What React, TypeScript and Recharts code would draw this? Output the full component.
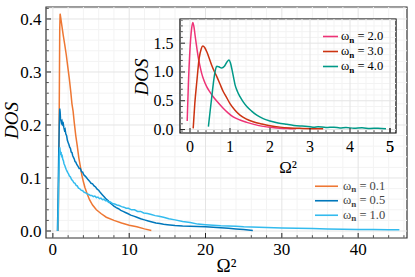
import React from 'react';
import { LineChart, Line, XAxis, YAxis, ReferenceLine, ReferenceArea, Legend, Label } from 'recharts';

const FONT = '"Liberation Serif", "DejaVu Serif", serif';

// ---------- main chart data ----------
const mainOmegas = ['0.1', '0.5', '1.0'];
const mainColors = ['#EE7733', '#0077BB', '#33BBEE'];

const seriesW01: [number, number][] = [
  [0.7, 0], [0.8, 0.15], [0.9, 0.38], [0.95, 0.41], [1.05, 0.4], [1.2, 0.385], [1.35, 0.37],
  [1.55, 0.352], [1.75, 0.333], [1.95, 0.31], [2.15, 0.288], [2.35, 0.262], [2.5, 0.24],
  [2.65, 0.226], [2.8, 0.205], [3.0, 0.18], [3.2, 0.16], [3.4, 0.138], [3.6, 0.122],
  [3.8, 0.105], [4.0, 0.093], [4.2, 0.082], [4.5, 0.07], [4.8, 0.059], [5.2, 0.049],
  [5.7, 0.04], [6.3, 0.033], [7.0, 0.026], [8.0, 0.02], [9.0, 0.015], [10.0, 0.011],
  [11.0, 0.008], [12.0, 0.004], [12.9, 0.001],
];

const seriesW05: [number, number][] = [
  [0.6, 0], [0.68, 0.06], [0.76, 0.14], [0.84, 0.2], [0.9, 0.231], [0.95, 0.225], [1.0, 0.212],
  [1.06, 0.209], [1.12, 0.204], [1.2, 0.207], [1.28, 0.201], [1.36, 0.203], [1.44, 0.195],
  [1.52, 0.19], [1.6, 0.192], [1.7, 0.183], [1.8, 0.18], [1.9, 0.171], [2.0, 0.167],
  [2.1, 0.163], [2.2, 0.158], [2.3, 0.156], [2.4, 0.149], [2.5, 0.148], [2.6, 0.142],
  [2.7, 0.139], [2.8, 0.136], [2.9, 0.131], [3.0, 0.13], [3.15, 0.125], [3.3, 0.122],
  [3.45, 0.118], [3.6, 0.118], [3.75, 0.112], [3.9, 0.111], [4.05, 0.106], [4.2, 0.104],
  [4.4, 0.101], [4.6, 0.097], [4.8, 0.094], [5.0, 0.09], [5.2, 0.089], [5.4, 0.085],
  [5.6, 0.083], [5.8, 0.079], [6.0, 0.077], [6.25, 0.072], [6.5, 0.068], [6.75, 0.064],
  [7.0, 0.06], [7.25, 0.057], [7.5, 0.053], [7.75, 0.05], [8.0, 0.047], [8.3, 0.044],
  [8.6, 0.042], [8.9, 0.039], [9.2, 0.037], [9.5, 0.035], [9.8, 0.033], [10.2, 0.03],
  [10.6, 0.028], [11.0, 0.026], [11.5, 0.023], [12.0, 0.021], [12.5, 0.019], [13.0, 0.017],
  [13.5, 0.015], [14.0, 0.014], [14.5, 0.0126], [15, 0.012], [16, 0.0105], [17, 0.0095],
  [18, 0.009], [19, 0.0085], [20, 0.008], [21, 0.007], [22, 0.006], [23, 0.005],
  [24, 0.004], [25, 0.003], [26.2, 0.001],
];

const seriesW10: [number, number][] = [
  [0.65, 0], [0.72, 0.05], [0.8, 0.11], [0.86, 0.145], [0.91, 0.158], [0.96, 0.15],
  [1.02, 0.146], [1.08, 0.147], [1.15, 0.141], [1.22, 0.142], [1.3, 0.135], [1.38, 0.133],
  [1.46, 0.127], [1.55, 0.124], [1.65, 0.12], [1.75, 0.116], [1.85, 0.113], [1.95, 0.11],
  [2.05, 0.108], [2.15, 0.104], [2.3, 0.102], [2.45, 0.097], [2.6, 0.095], [2.75, 0.091],
  [2.9, 0.09], [3.05, 0.086], [3.2, 0.085], [3.35, 0.081], [3.5, 0.08], [3.7, 0.077],
  [3.9, 0.076], [4.1, 0.073], [4.3, 0.072], [4.5, 0.07], [4.7, 0.069], [4.9, 0.067],
  [5.1, 0.067], [5.3, 0.065], [5.5, 0.066], [5.7, 0.063], [5.9, 0.064], [6.1, 0.061],
  [6.3, 0.062], [6.5, 0.059], [6.7, 0.06], [6.9, 0.057], [7.1, 0.057], [7.3, 0.054],
  [7.5, 0.055], [7.8, 0.052], [8.1, 0.051], [8.4, 0.049], [8.7, 0.048], [9.0, 0.046],
  [9.3, 0.045], [9.6, 0.043], [9.9, 0.043], [10.3, 0.04], [10.7, 0.04], [11.1, 0.037],
  [11.5, 0.037], [11.9, 0.034], [12.4, 0.033], [12.9, 0.031], [13.4, 0.029], [13.9, 0.028],
  [14.5, 0.026], [15.2, 0.023], [16, 0.021], [17, 0.018], [18, 0.016], [19, 0.013],
  [20, 0.012], [21, 0.011], [22, 0.01], [23, 0.0095], [24, 0.009], [25, 0.008],
  [26, 0.0075], [27, 0.007], [28, 0.0065], [29, 0.006], [30, 0.0055], [32, 0.005],
  [34, 0.0045], [36, 0.004], [38, 0.0035], [40, 0.003], [42, 0.0027], [44, 0.0024],
  [45.4, 0.0022],
];

const mainSeries = [seriesW01, seriesW05, seriesW10];

const mainXMajor = [0, 10, 20, 30, 40];
const mainXMinor = [2, 4, 6, 8, 12, 14, 16, 18, 22, 24, 26, 28, 32, 34, 36, 38, 42, 44, 46];
const mainYMajor = [0, 0.1, 0.2, 0.3, 0.4];
const mainYMinor = [0.02, 0.04, 0.06, 0.08, 0.12, 0.14, 0.16, 0.18, 0.22, 0.24, 0.26, 0.28, 0.32, 0.34, 0.36, 0.38, 0.42];
const mainXDomain: [number, number] = [-0.9, 46.4];
const mainYDomain: [number, number] = [-0.0132, 0.4226];

// ---------- inset data ----------
const insetOmegas = ['2.0', '3.0', '4.0'];
const insetColors = ['#EE3377', '#CC3311', '#009988'];

const seriesW20: [number, number][] = [
  [-0.07, 0.15], [-0.04, 0.8], [0.0, 1.4], [0.04, 1.75], [0.07, 1.86], [0.1, 1.78],
  [0.13, 1.62], [0.17, 1.42], [0.21, 1.24], [0.25, 1.1], [0.29, 0.98], [0.35, 0.85],
  [0.42, 0.74], [0.5, 0.65], [0.58, 0.57], [0.7, 0.47], [0.83, 0.37], [0.95, 0.29],
  [1.08, 0.22], [1.25, 0.165], [1.42, 0.125], [1.6, 0.09], [1.83, 0.055], [2.05, 0.035],
  [2.25, 0.022], [2.5, 0.015], [2.65, 0.012],
];

const seriesW30: [number, number][] = [
  [0.08, 0.02], [0.12, 0.45], [0.17, 0.83], [0.23, 1.24], [0.28, 1.4], [0.32, 1.45],
  [0.37, 1.42], [0.42, 1.35], [0.48, 1.24], [0.54, 1.12], [0.6, 1.02], [0.67, 0.92],
  [0.75, 0.79], [0.83, 0.66], [0.92, 0.55], [1.0, 0.45], [1.12, 0.34], [1.25, 0.25],
  [1.4, 0.185], [1.58, 0.135], [1.8, 0.095], [2.0, 0.066], [2.25, 0.042], [2.5, 0.028],
  [2.8, 0.02], [3.1, 0.015], [3.33, 0.012],
];

const seriesW40: [number, number][] = [
  [0.46, 0.05], [0.5, 0.3], [0.54, 0.54], [0.6, 0.89], [0.64, 1.05], [0.67, 1.1],
  [0.72, 1.09], [0.79, 1.07], [0.86, 1.1], [0.92, 1.17], [0.975, 1.21], [1.01, 1.16],
  [1.05, 1.04], [1.09, 0.9], [1.125, 0.78], [1.18, 0.67], [1.25, 0.57], [1.33, 0.48],
  [1.42, 0.4], [1.54, 0.32], [1.67, 0.25], [1.83, 0.19], [2.0, 0.15], [2.2, 0.115],
  [2.42, 0.09], [2.6, 0.072], [2.8, 0.06], [3.0, 0.05], [3.1, 0.04], [3.2, 0.05],
  [3.4, 0.036], [3.6, 0.042], [3.75, 0.027], [3.9, 0.036], [4.1, 0.022], [4.3, 0.03],
  [4.5, 0.018], [4.7, 0.023], [4.9, 0.012],
];

const insetSeries = [seriesW20, seriesW30, seriesW40];

const insetXMajor = [0, 1, 2, 3, 4, 5];
const insetXMinor = [-0.2, 0.2, 0.4, 0.6, 0.8, 1.2, 1.4, 1.6, 1.8, 2.2, 2.4, 2.6, 2.8, 3.2, 3.4, 3.6, 3.8, 4.2, 4.4, 4.6, 4.8, 5.0];
const insetYMajor = [0, 0.5, 1.0, 1.5];
const insetYMinor = [0.1, 0.2, 0.3, 0.4, 0.6, 0.7, 0.8, 0.9, 1.1, 1.2, 1.3, 1.4, 1.6, 1.7, 1.8, 1.9];
const insetXDomain: [number, number] = [-0.25, 5.15];
const insetYDomain: [number, number] = [-0.06, 1.92];

const toPoints = (s: [number, number][]) => s.map(([x, y]) => ({ x, y }));

const isIn = (arr: number[], v: number) => arr.some((m) => Math.abs(m - v) < 1e-9);

const makeXTick = (majors: number[], fontSize: number, dy: number, fmt: (v: number) => string) =>
  (props: any) => {
    const { x, y, payload } = props;
    const v = payload.value;
    const major = isIn(majors, v);
    return (
      <g>
        <line x1={x} x2={x} y1={y} y2={y - (major ? 5 : 2.8)} stroke="#222" strokeWidth={major ? 1 : 0.8} />
        {major && (
          <text x={x} y={y + dy} textAnchor="middle" fontSize={fontSize} fontFamily={FONT} fill="#000">
            {fmt(v)}
          </text>
        )}
      </g>
    );
  };

const makeYTick = (majors: number[], fontSize: number, gap: number, fmt: (v: number) => string) =>
  (props: any) => {
    const { x, y, payload } = props;
    const v = payload.value;
    const major = isIn(majors, v);
    return (
      <g>
        <line x1={x} x2={x + (major ? 5 : 2.8)} y1={y} y2={y} stroke="#222" strokeWidth={major ? 1 : 0.8} />
        {major && (
          <text x={x - gap} y={y + fontSize * 0.34} textAnchor="end" fontSize={fontSize} fontFamily={FONT} fill="#000">
            {fmt(v)}
          </text>
        )}
      </g>
    );
  };

const makeLegend = (lineLen: number, gap: number, rowH: number, fontSize: number, textColor: string) =>
  (props: any) => {
    const payload = props.payload || [];
    return (
      <svg width={110} height={rowH * payload.length + 4} style={{ display: 'block', overflow: 'visible' }}>
        {payload.map((p: any, i: number) => (
          <g key={i} transform={`translate(0, ${rowH * i + rowH / 2})`}>
            <line x1={0} x2={lineLen} y1={0} y2={0} stroke={p.color} strokeWidth={1.6} />
            <text x={lineLen + gap} y={3.5} fontSize={fontSize} fontFamily={FONT} fill={textColor}>
              ω
              <tspan fontWeight="bold" fontSize={fontSize * 0.72} dy={2.5}>n</tspan>
              <tspan dy={-2.5}>{' = ' + p.value}</tspan>
            </text>
          </g>
        ))}
      </svg>
    );
  };

const gridMajor = '#e4e4e4';
const gridMinor = '#f3f3f3';

export default function App() {
  return (
    <div style={{ position: 'absolute', left: 0, top: 0, width: 415, height: 277, background: '#fff' }}>
      <div style={{ position: 'absolute', left: 0, top: 0 }}>
        <LineChart width={415} height={277} margin={{ top: 7, right: 8, left: 6, bottom: 0 }}>
          <XAxis
            xAxisId={0}
            type="number"
            dataKey="x"
            domain={mainXDomain}
            allowDataOverflow
            ticks={[...mainXMajor, ...mainXMinor]}
            interval={0}
            height={39}
            tickSize={0}
            tickMargin={0}
            axisLine={false}
            tickLine={false}
            tick={makeXTick(mainXMajor, 17, 17, (v) => String(v))}
          >
            <Label
              content={(p: any) => {
                const vb = p.viewBox;
                return (
                  <text x={vb.x + vb.width / 2} y={vb.y + 34} textAnchor="middle" fontSize={19} fontFamily={FONT} fill="#000">
                    Ω²
                  </text>
                );
              }}
            />
          </XAxis>
          <YAxis
            yAxisId={0}
            type="number"
            domain={mainYDomain}
            allowDataOverflow
            ticks={[...mainYMajor, ...mainYMinor]}
            interval={0}
            width={40}
            tickSize={0}
            tickMargin={0}
            axisLine={false}
            tickLine={false}
            tick={makeYTick(mainYMajor, 17, 4.5, (v) => v.toFixed(1))}
          >
            <Label
              content={(p: any) => {
                const vb = p.viewBox;
                const cx = 11;
                const cy = vb.y + vb.height / 2 - 2;
                return (
                  <text transform={`translate(${cx},${cy}) rotate(-90)`} textAnchor="middle" dominantBaseline="central" fontSize={19} fontStyle="italic" fontFamily={FONT} fill="#000">
                    DOS
                  </text>
                );
              }}
            />
          </YAxis>
          {mainXMinor.map((v) => (
            <ReferenceLine key={'mx' + v} x={v} stroke={gridMinor} strokeWidth={1} ifOverflow="hidden" />
          ))}
          {mainYMinor.map((v) => (
            <ReferenceLine key={'my' + v} y={v} stroke={gridMinor} strokeWidth={1} ifOverflow="hidden" />
          ))}
          {mainXMajor.map((v) => (
            <ReferenceLine key={'Mx' + v} x={v} stroke={gridMajor} strokeWidth={1} />
          ))}
          {mainYMajor.map((v) => (
            <ReferenceLine key={'My' + v} y={v} stroke={gridMajor} strokeWidth={1} />
          ))}
          {mainSeries.map((s, i) => (
            <Line
              key={'m' + i}
              data={toPoints(s)}
              dataKey="y"
              name={mainOmegas[i]}
              stroke={mainColors[i]}
              strokeWidth={1.5}
              dot={false}
              isAnimationActive={false}
              type="linear"
            />
          ))}
          <ReferenceArea
            x1={mainXDomain[0]}
            x2={mainXDomain[1]}
            y1={mainYDomain[0]}
            y2={mainYDomain[1]}
            fill="none"
            stroke="#333"
            strokeWidth={1.2}
            ifOverflow="visible"
          />
          <Legend
            layout="vertical"
            align="center"
            verticalAlign="middle"
            wrapperStyle={{ left: 315, top: 178.5, width: 100, height: 46 }}
            content={makeLegend(23, 5, 14.5, 12.5, '#444')}
          />
        </LineChart>
      </div>

      <div style={{ position: 'absolute', left: 130, top: 0 }}>
        <LineChart width={272} height={180} margin={{ top: 19, right: 6, left: 10, bottom: 0 }}>
          <XAxis
            xAxisId={0}
            type="number"
            dataKey="x"
            domain={insetXDomain}
            allowDataOverflow
            ticks={[...insetXMajor, ...insetXMinor]}
            interval={0}
            height={47}
            tickSize={0}
            tickMargin={0}
            axisLine={false}
            tickLine={false}
            tick={makeXTick(insetXMajor, 16, 18.5, (v) => String(v))}
          >
            <Label
              content={(p: any) => {
                const vb = p.viewBox;
                return (
                  <text x={vb.x + vb.width / 2} y={vb.y + 40} textAnchor="middle" fontSize={17} fontFamily={FONT} fill="#000">
                    Ω²
                  </text>
                );
              }}
            />
          </XAxis>
          <YAxis
            yAxisId={0}
            type="number"
            domain={insetYDomain}
            allowDataOverflow
            ticks={[...insetYMajor, ...insetYMinor]}
            interval={0}
            width={40}
            tickSize={0}
            tickMargin={0}
            axisLine={false}
            tickLine={false}
            tick={makeYTick(insetYMajor, 16, 6.5, (v) => v.toFixed(1))}
          >
            <Label
              content={(p: any) => {
                const vb = p.viewBox;
                const cx = 11;
                const cy = vb.y + vb.height / 2 + 1;
                return (
                  <text transform={`translate(${cx},${cy}) rotate(-90)`} textAnchor="middle" dominantBaseline="central" fontSize={19} fontStyle="italic" fontFamily={FONT} fill="#000">
                    DOS
                  </text>
                );
              }}
            />
          </YAxis>
          <ReferenceArea
            x1={insetXDomain[0]}
            x2={insetXDomain[1]}
            y1={insetYDomain[0]}
            y2={insetYDomain[1]}
            fill="#fff"
            fillOpacity={1}
            stroke="none"
            ifOverflow="visible"
          />
          {insetXMinor.map((v) => (
            <ReferenceLine key={'ix' + v} x={v} stroke={gridMinor} strokeWidth={1} ifOverflow="hidden" />
          ))}
          {insetYMinor.map((v) => (
            <ReferenceLine key={'iy' + v} y={v} stroke={gridMinor} strokeWidth={1} ifOverflow="hidden" />
          ))}
          {insetXMajor.map((v) => (
            <ReferenceLine key={'IX' + v} x={v} stroke={gridMajor} strokeWidth={1} />
          ))}
          {insetYMajor.map((v) => (
            <ReferenceLine key={'IY' + v} y={v} stroke={gridMajor} strokeWidth={1} />
          ))}
          {insetSeries.map((s, i) => (
            <Line
              key={'i' + i}
              data={toPoints(s)}
              dataKey="y"
              name={insetOmegas[i]}
              stroke={insetColors[i]}
              strokeWidth={1.5}
              dot={false}
              isAnimationActive={false}
              type="monotone"
            />
          ))}
          <ReferenceArea
            x1={insetXDomain[0]}
            x2={insetXDomain[1]}
            y1={insetYDomain[0]}
            y2={insetYDomain[1]}
            fill="none"
            stroke="#000"
            strokeWidth={1.2}
            ifOverflow="visible"
          />
          <Legend
            layout="vertical"
            align="center"
            verticalAlign="middle"
            wrapperStyle={{ left: 193, top: 28.5, width: 80, height: 48 }}
            content={makeLegend(15, 3, 15, 12.5, '#000')}
          />
        </LineChart>
      </div>
    </div>
  );
}
